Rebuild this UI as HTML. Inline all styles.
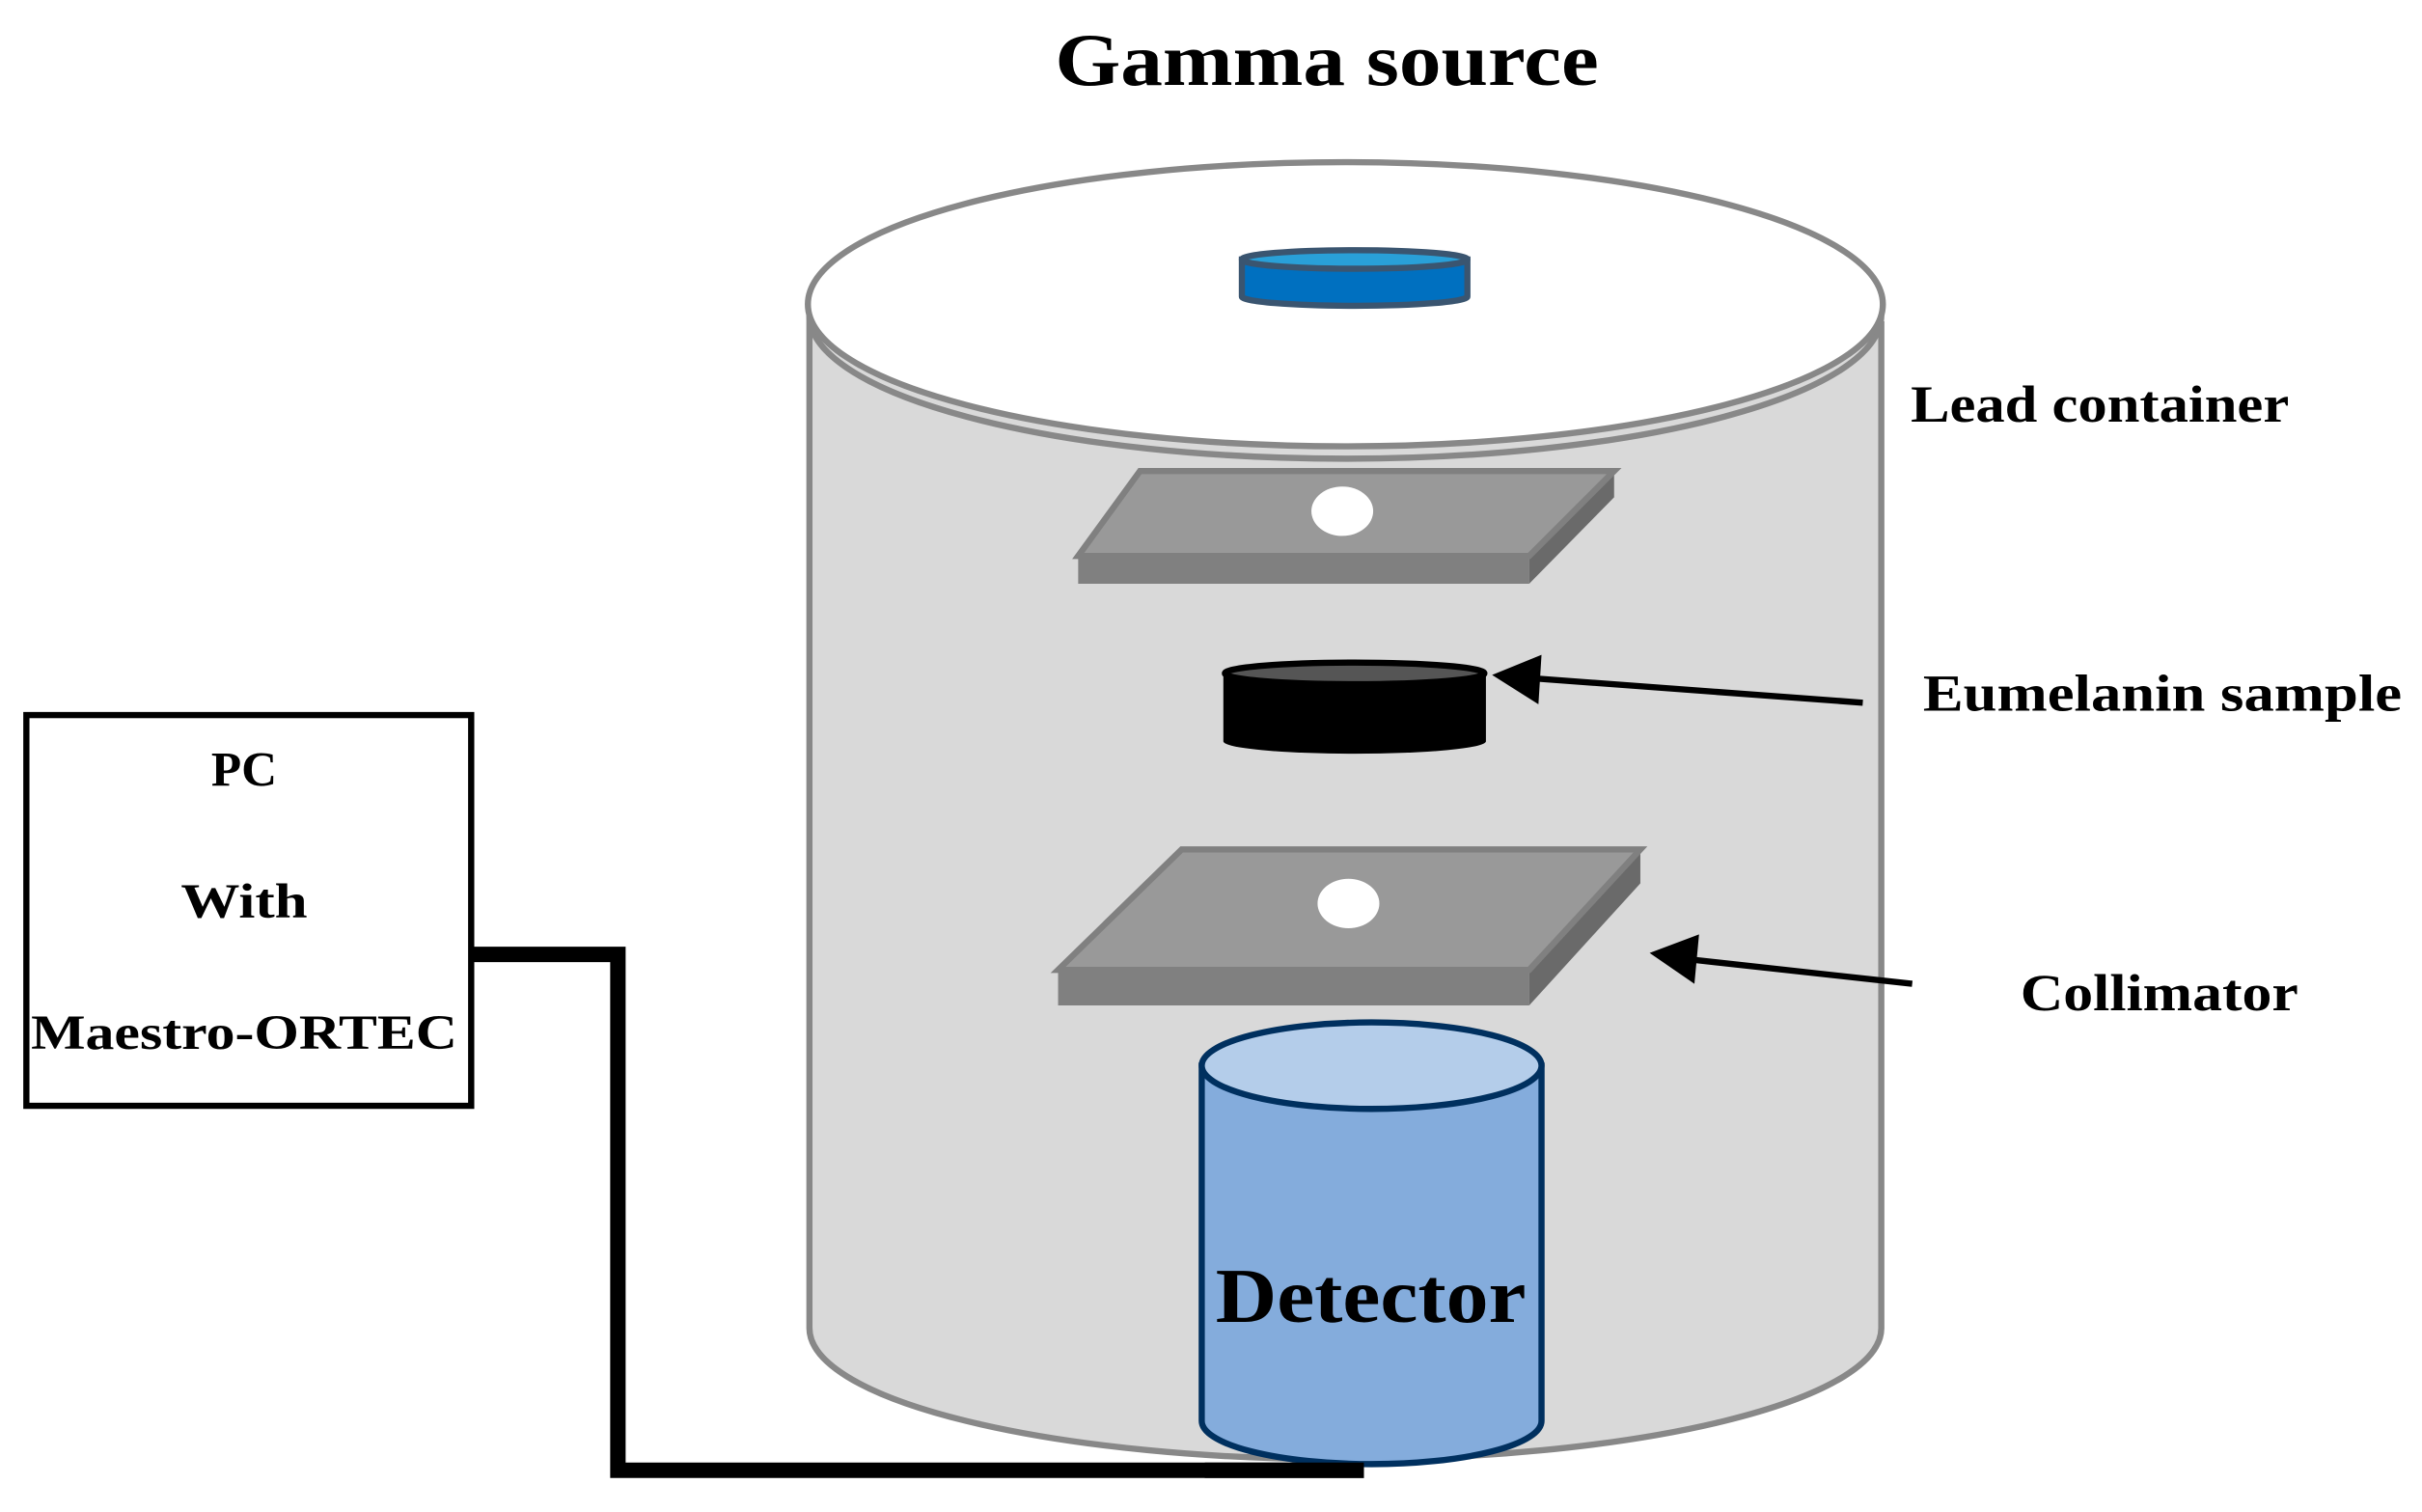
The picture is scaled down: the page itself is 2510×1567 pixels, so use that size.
<!DOCTYPE html>
<html><head><meta charset="utf-8"><style>
html,body{margin:0;padding:0;background:#fff;}
svg{display:block;}
text{font-family:"Liberation Serif",serif;font-weight:bold;fill:#000;}
</style></head><body>
<svg width="2510" height="1567" viewBox="0 0 1568 979" xmlns="http://www.w3.org/2000/svg">
<text x="683" y="55" font-size="48" textLength="352" lengthAdjust="spacingAndGlyphs">Gamma source</text>
<!-- lead container -->
<path d="M524,200 L524,860 A347,85 0 0 0 1218,860 L1218,210 Z" fill="#d9d9d9" stroke="#888" stroke-width="4"/>
<ellipse cx="871" cy="204" rx="347" ry="93" fill="none" stroke="#888" stroke-width="4"/>
<ellipse cx="871" cy="197" rx="348" ry="92" fill="#fff" stroke="#888" stroke-width="4"/>
<!-- gamma source -->
<path d="M804,168 L804,192 A73,6 0 0 0 950,192 L950,168 Z" fill="#0070c0" stroke="#3a5570" stroke-width="4"/>
<ellipse cx="877" cy="168" rx="73" ry="6" fill="#29a0d8" stroke="#3a5570" stroke-width="4"/>
<!-- plate 1 -->
<polygon points="698,360 990,360 990,378 698,378" fill="#808080"/>
<polygon points="990,360 1045,305 1045,322 990,378" fill="#6a6a6a"/>
<polygon points="738,305 1045,305 990,360 698,360" fill="#999" stroke="#808080" stroke-width="4"/>
<ellipse cx="869" cy="331" rx="20" ry="16" fill="#fff"/>
<!-- sample -->
<path d="M792,436 L792,480 A85,8 0 0 0 962,480 L962,436 Z" fill="#000"/>
<ellipse cx="877" cy="436" rx="84" ry="7" fill="#555" stroke="#000" stroke-width="4"/>
<line x1="1206" y1="455" x2="990" y2="439" stroke="#000" stroke-width="4"/>
<polygon points="966,437 998,424 996,456" fill="#000"/>
<!-- plate 2 -->
<polygon points="685,628 990,628 990,651 685,651" fill="#808080"/>
<polygon points="990,628 1062,550 1062,572 990,651" fill="#6a6a6a"/>
<polygon points="765,550 1062,550 990,628 685,628" fill="#999" stroke="#808080" stroke-width="4"/>
<ellipse cx="873" cy="585" rx="20" ry="16" fill="#fff"/>
<line x1="1238" y1="637" x2="1092" y2="621" stroke="#000" stroke-width="4"/>
<polygon points="1068,617 1100,605 1097,637" fill="#000"/>
<!-- cable -->
<polyline points="306,618 400,618 400,952 883,952" fill="none" stroke="#000" stroke-width="10"/>
<!-- detector -->
<path d="M778,690 L778,920 A110,28 0 0 0 998,920 L998,690 Z" fill="#84acdc" stroke="#00305f" stroke-width="4"/>
<ellipse cx="888" cy="690" rx="110" ry="28" fill="#b4cdea" stroke="#00305f" stroke-width="4"/>
<line x1="780" y1="952" x2="883" y2="952" stroke="#000" stroke-width="10"/>
<text x="787" y="856" font-size="50" textLength="201" lengthAdjust="spacingAndGlyphs">Detector</text>
<!-- PC box -->
<rect x="17" y="463" width="288" height="253" fill="#fff" stroke="#000" stroke-width="4"/>
<text x="158" y="509" font-size="32" text-anchor="middle">PC</text>
<text x="158" y="594" font-size="32" text-anchor="middle" textLength="82" lengthAdjust="spacingAndGlyphs">With</text>
<text x="158" y="679" font-size="32" text-anchor="middle" textLength="276" lengthAdjust="spacingAndGlyphs">Maestro-ORTEC</text>
<!-- labels -->
<text x="1237" y="273" font-size="34" textLength="245" lengthAdjust="spacingAndGlyphs">Lead container</text>
<text x="1245" y="460" font-size="34" textLength="310" lengthAdjust="spacingAndGlyphs">Eumelanin sample</text>
<text x="1308" y="654" font-size="34" textLength="180" lengthAdjust="spacingAndGlyphs">Collimator</text>
</svg>
</body></html>
